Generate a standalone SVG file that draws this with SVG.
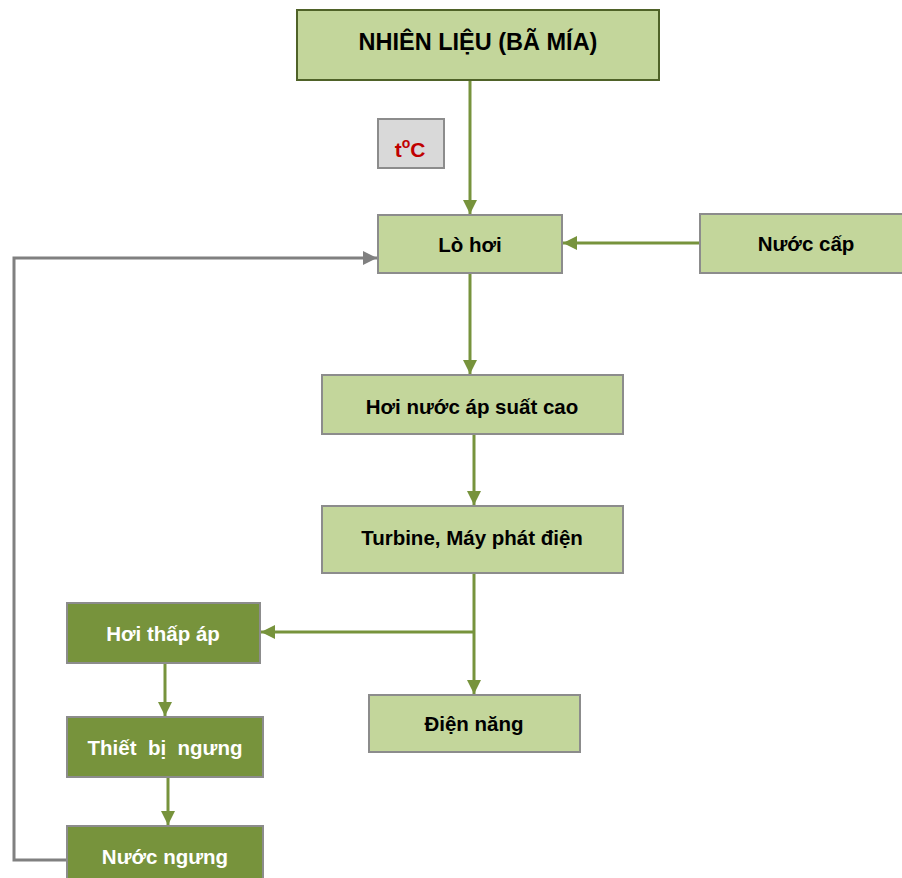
<svg xmlns="http://www.w3.org/2000/svg" width="902" height="878" viewBox="0 0 902 878">
<style>
.lt{fill:#C3D69B;stroke:#8C8C8C;stroke-width:2}
.top{fill:#C3D69B;stroke:#4F6228;stroke-width:2}
.dk{fill:#77933C;stroke:#8C8C8C;stroke-width:2}
.tb{font-family:"Liberation Sans",Arial,sans-serif;font-weight:bold;font-size:20.5px;fill:#000;text-anchor:middle;dominant-baseline:central}
.tw{font-family:"Liberation Sans",Arial,sans-serif;font-weight:bold;font-size:20.5px;fill:#fff;text-anchor:middle;dominant-baseline:central;white-space:pre}
.g{stroke:#77933C;stroke-width:3;fill:none}
.gr{stroke:#808080;stroke-width:3;fill:none}
</style>
<defs>
<marker id="ag" markerUnits="userSpaceOnUse" markerWidth="16" markerHeight="16" refX="14" refY="8" orient="auto"><path d="M0,1 L14,8 L0,15 z" fill="#77933C"/></marker>
<marker id="agr" markerUnits="userSpaceOnUse" markerWidth="16" markerHeight="16" refX="14" refY="8" orient="auto"><path d="M0,1 L14,8 L0,15 z" fill="#808080"/></marker>
</defs>
<rect width="902" height="878" fill="#fff"/>
<g id="connectors">
<path class="g" d="M470,80 V214" marker-end="url(#ag)"/>
<path class="g" d="M700,243 H563" marker-end="url(#ag)"/>
<path class="g" d="M470,273 V374" marker-end="url(#ag)"/>
<path class="g" d="M474,434 V505" marker-end="url(#ag)"/>
<path class="g" d="M474,573 V694" marker-end="url(#ag)"/>
<path class="g" d="M474,632 H261" marker-end="url(#ag)"/>
<path class="g" d="M165,663 V716" marker-end="url(#ag)"/>
<path class="g" d="M168,777 V825" marker-end="url(#ag)"/>
<path class="gr" d="M67,860 H14 V258 H377" marker-end="url(#agr)"/>
</g>
<g id="nhien-lieu"><rect class="top" x="297" y="10" width="362" height="70"/><text class="tb" x="478" y="42" style="font-size:23.5px">NHIÊN LIỆU (BÃ MÍA)</text></g>
<g id="temp"><rect x="378" y="119" width="66" height="49" fill="#D9D9D9" stroke="#8C8C8C" stroke-width="2"/><text x="410" y="157" font-family="'Liberation Sans',Arial,sans-serif" font-weight="bold" font-size="21" fill="#C00000" text-anchor="middle">t<tspan dy="-9" font-size="14">o</tspan><tspan dy="9">C</tspan></text></g>
<g id="lo-hoi"><rect class="lt" x="378" y="215" width="184" height="58"/><text class="tb" x="470" y="244">Lò hơi</text></g>
<g id="nuoc-cap"><rect class="lt" x="700" y="214" width="204" height="59"/><text class="tb" x="806" y="243">Nước cấp</text></g>
<g id="hoi-nuoc"><rect class="lt" x="322" y="375" width="301" height="59"/><text class="tb" x="472" y="406">Hơi nước áp suất cao</text></g>
<g id="turbine"><rect class="lt" x="322" y="506" width="301" height="67"/><text class="tb" x="472" y="537">Turbine, Máy phát điện</text></g>
<g id="dien-nang"><rect class="lt" x="369" y="695" width="211" height="57"/><text class="tb" x="474" y="723">Điện năng</text></g>
<g id="hoi-thap-ap"><rect class="dk" x="67" y="603" width="193" height="60"/><text class="tw" x="163" y="633">Hơi thấp áp</text></g>
<g id="thiet-bi-ngung"><rect class="dk" x="67" y="717" width="196" height="60"/><text class="tw" x="165" y="747">Thiết  bị  ngưng</text></g>
<g id="nuoc-ngung"><rect class="dk" x="67" y="826" width="196" height="60"/><text class="tw" x="165" y="856">Nước ngưng</text></g>
</svg>
